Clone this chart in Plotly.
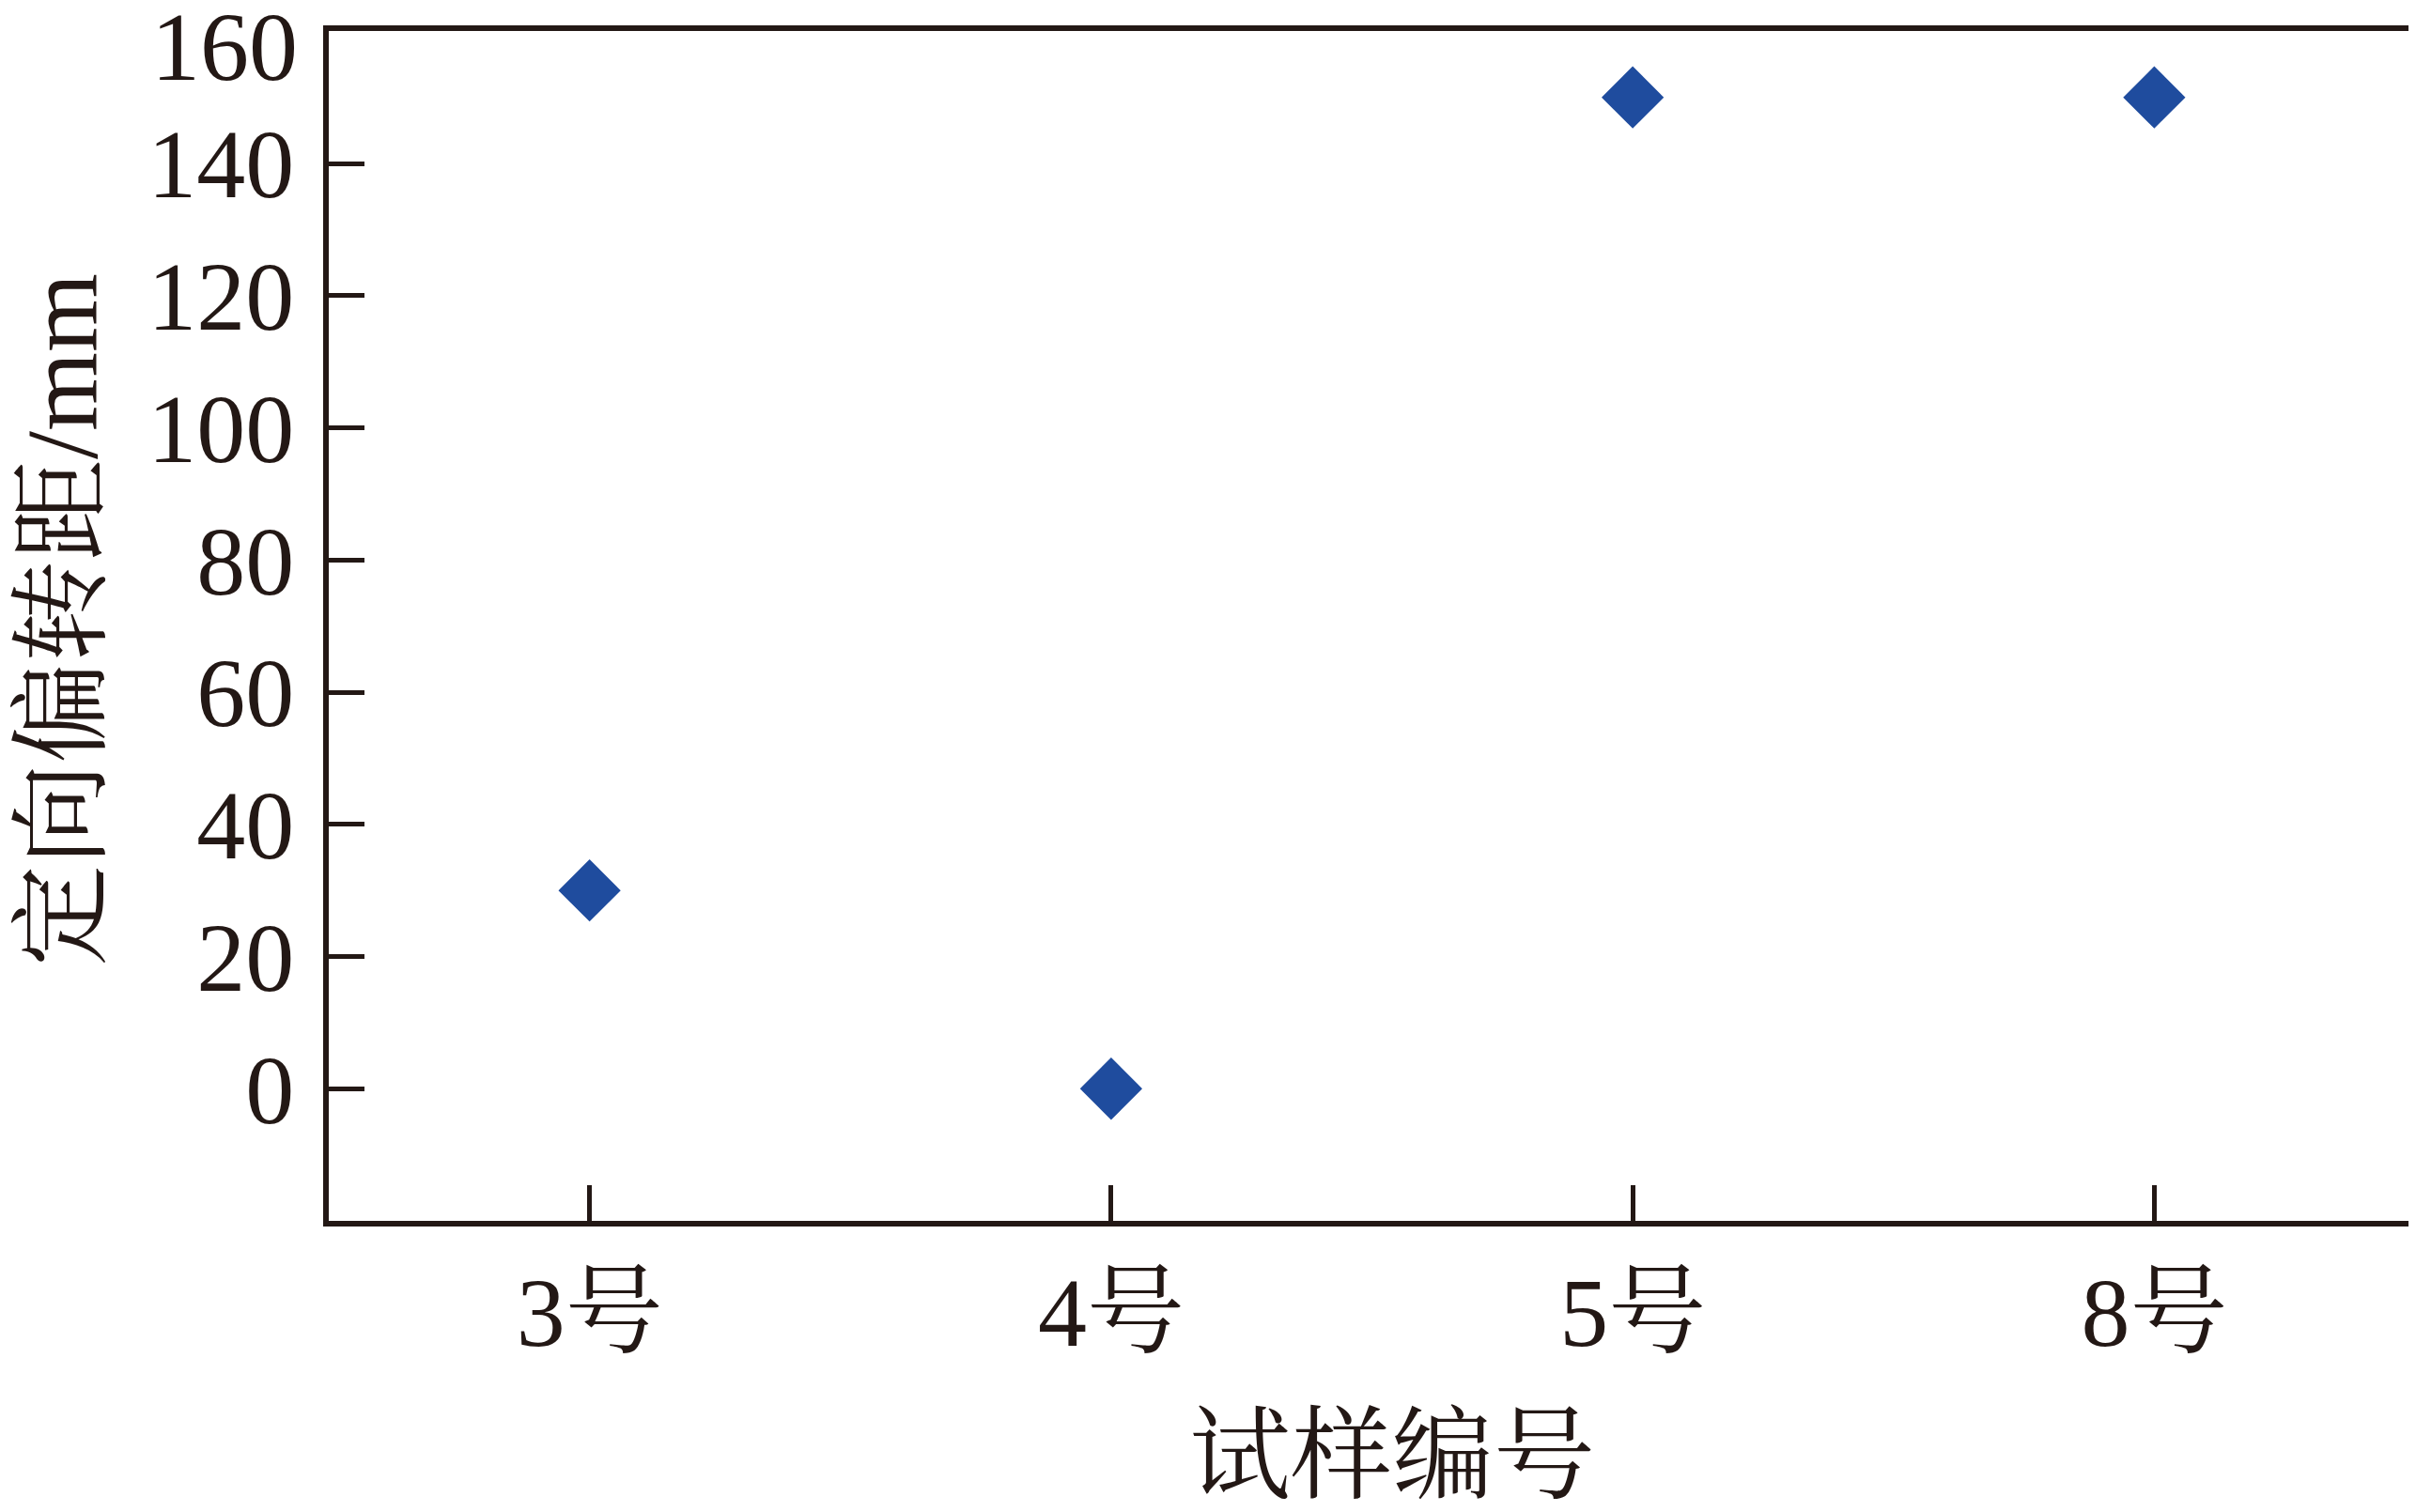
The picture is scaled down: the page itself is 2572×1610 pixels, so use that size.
import plotly.graph_objects as go

categories = ["3号", "4号", "5号", "8号"]
values = [30, 0, 150, 150]
y_ticks = [0, 20, 40, 60, 80, 100, 120, 140, 160]
y_tick_labels = ["0", "20", "40", "60", "80", "100", "120", "140", "160"]

INK = "#231815"
FONT = "Liberation Serif, 'Times New Roman', 'Noto Serif CJK SC', 'Noto Sans CJK SC', serif"

L, R, T, B = 342, 9, 25, 318
W, H = 2572, 1610
PW, PH = W - L - R, H - T - B

fig = go.Figure()
fig.add_trace(go.Scatter(
    x=categories, y=values, mode="markers",
    marker=dict(symbol="diamond", size=51, color="#1F4C9E", line=dict(width=0)),
    showlegend=False,
))

fig.update_layout(
    width=W, height=H,
    margin=dict(l=L, r=R, t=T, b=B, autoexpand=False),
    paper_bgcolor="white", plot_bgcolor="white",
    font=dict(family=FONT, size=104, color=INK),
)
fig.update_xaxes(
    type="category", range=[-0.5, 3.5], automargin=False,
    showline=True, linecolor=INK, linewidth=6, mirror=True,
    ticks="inside", ticklen=38, tickwidth=5, tickcolor=INK,
    showgrid=False, zeroline=False,
    tickfont=dict(family=FONT, size=104, color=INK),
    ticklabelstandoff=2,
)
# the top label (160) is drawn as an annotation so it stays inside the page
fig.update_yaxes(
    range=[-20, 160.05], tickvals=y_ticks,
    ticktext=y_tick_labels[:-1] + [""],
    automargin=False,
    showline=True, linecolor=INK, linewidth=6, mirror=True,
    ticks="inside", ticklen=38, tickwidth=5, tickcolor=INK,
    showgrid=False, zeroline=False,
    tickfont=dict(family=FONT, size=104, color=INK),
    ticklabelstandoff=10,
)
fig.add_annotation(
    text=y_tick_labels[-1], xref="paper", yref="paper",
    x=-(L - 311) / PW, y=((H - B) - 41) / PH,
    xanchor="right", yanchor="middle", showarrow=False,
    font=dict(family=FONT, size=104, color=INK),
)

fig.add_annotation(
    text="试样编号", xref="paper", yref="paper",
    x=(1474 - L) / PW, y=-(1542 - (H - B)) / PH,
    xanchor="center", yanchor="middle", showarrow=False,
    font=dict(family=FONT, size=108, color=INK),
)
fig.add_annotation(
    text="定向偏转距/mm", xref="paper", yref="paper",
    x=-(L - 58) / PW, y=((H - B) - 652) / PH,
    xanchor="center", yanchor="middle", textangle=-90, showarrow=False,
    font=dict(family=FONT, size=108, color=INK),
)

fig.write_html("out.html")
